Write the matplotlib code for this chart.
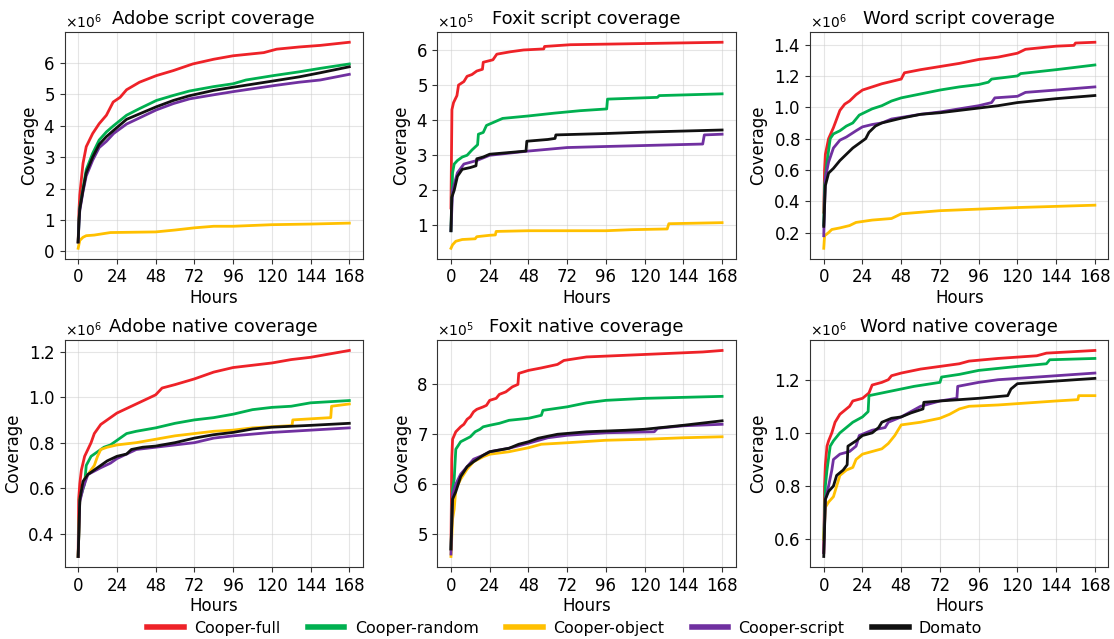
import matplotlib
matplotlib.use("Agg")
import matplotlib.pyplot as plt
from matplotlib.lines import Line2D
from matplotlib.ticker import ScalarFormatter, MultipleLocator

# Series names and colours
names = ["Cooper-full", "Cooper-random", "Cooper-object", "Cooper-script", "Domato"]
colors = ["#ee2228", "#00b050", "#ffc000", "#7030a0", "#111111"]

# Each series: list of (hour, coverage)
adobe_script = {
    "Cooper-full": [(0, 0.3), (0.5, 1.3), (1, 1.8), (2, 2.3), (3, 2.8), (5, 3.33), (9, 3.75), (13, 4.06),
                    (17.5, 4.33), (21.7, 4.75), (26, 4.9), (30, 5.14), (38, 5.38), (48.5, 5.59), (59, 5.75),
                    (71, 5.96), (84, 6.11), (96, 6.22), (115, 6.32), (123, 6.43), (137, 6.5), (150, 6.55), (168, 6.65)],
    "Cooper-random": [(0, 0.3), (0.5, 1.0), (1, 1.4), (3, 2.0), (5, 2.6), (9, 3.12), (13, 3.54), (17.5, 3.8),
                      (22, 4.0), (30, 4.33), (38, 4.54), (48.5, 4.8), (59, 4.96), (69, 5.1), (84, 5.24),
                      (96, 5.33), (104, 5.45), (121, 5.59), (137, 5.71), (150, 5.82), (168, 5.96)],
    "Cooper-object": [(0, 0.1), (1, 0.35), (3, 0.45), (5, 0.5), (10, 0.52), (20, 0.6), (48, 0.62), (60, 0.68),
                      (72, 0.75), (84, 0.8), (96, 0.8), (120, 0.85), (144, 0.87), (168, 0.9)],
    "Cooper-script": [(0, 0.3), (0.5, 0.9), (1, 1.3), (3, 1.9), (5, 2.4), (9, 2.9), (13, 3.3), (17.5, 3.5),
                      (22, 3.75), (30, 4.05), (48.5, 4.5), (59, 4.7), (69, 4.85), (84, 4.98), (96, 5.08),
                      (121, 5.27), (137, 5.38), (150, 5.45), (168, 5.63)],
    "Domato": [(0, 0.3), (0.5, 0.95), (1, 1.35), (3, 1.95), (5, 2.5), (9, 3.0), (13, 3.4), (17.5, 3.65),
               (22, 3.85), (30, 4.2), (48.5, 4.6), (59, 4.8), (69, 4.95), (84, 5.12), (96, 5.22),
               (121, 5.42), (137, 5.55), (150, 5.68), (168, 5.87)],
}

foxit_script = {
    "Cooper-full": [(0, 1.5), (0.6, 4.3), (1.6, 4.5), (3.7, 4.7), (4.7, 5.0), (8, 5.1), (10, 5.25), (13, 5.3),
                    (16, 5.4), (19.5, 5.45), (20, 5.65), (26, 5.72), (28.4, 5.88), (37, 5.95), (45, 6.0),
                    (57.5, 6.03), (58, 6.1), (74, 6.15), (115, 6.18), (168, 6.22)],
    "Cooper-random": [(0, 0.85), (1, 2.5), (2, 2.75), (4, 2.85), (7, 2.95), (10, 3.0), (13, 3.15), (16.5, 3.3),
                      (17, 3.6), (20, 3.65), (22, 3.85), (27, 3.95), (32, 4.05), (48, 4.12), (64, 4.2),
                      (80, 4.27), (96.5, 4.32), (97, 4.6), (128, 4.65), (129, 4.7), (168, 4.75)],
    "Cooper-object": [(0, 0.35), (1, 0.45), (3, 0.55), (7, 0.6), (15, 0.62), (16, 0.68), (24, 0.72),
                      (27.5, 0.73), (28, 0.83), (48, 0.85), (96, 0.85), (112, 0.88), (134, 0.9), (135, 1.05),
                      (168, 1.08)],
    "Cooper-script": [(0, 0.85), (1, 2.0), (4, 2.5), (8, 2.75), (16, 2.85), (24, 3.0), (48, 3.12), (72, 3.22),
                      (96, 3.25), (156, 3.32), (157, 3.58), (168, 3.6)],
    "Domato": [(0, 0.85), (0.5, 1.8), (2, 2.0), (4, 2.4), (7, 2.6), (12, 2.65), (15.5, 2.7), (16, 2.9),
               (20, 2.95), (24, 3.03), (46.5, 3.12), (47, 3.4), (60, 3.45), (64.5, 3.48), (65, 3.58),
               (96, 3.62), (120, 3.66), (168, 3.72)],
}

word_script = {
    "Cooper-full": [(0, 0.33), (0.5, 0.6), (1, 0.7), (3, 0.8), (6, 0.87), (10, 0.98), (13, 1.02), (16, 1.04),
                    (20, 1.08), (24, 1.11), (30, 1.13), (36, 1.15), (48, 1.18), (50, 1.22), (60, 1.24),
                    (72, 1.26), (84, 1.28), (96, 1.305), (108, 1.32), (120, 1.345), (125, 1.37), (144, 1.39),
                    (155, 1.395), (156, 1.41), (168, 1.415)],
    "Cooper-random": [(0, 0.25), (0.5, 0.5), (2, 0.65), (4, 0.8), (6, 0.83), (10, 0.85), (14, 0.88), (18, 0.9),
                      (22, 0.95), (26, 0.97), (30, 0.99), (36, 1.01), (42, 1.04), (48, 1.06), (60, 1.085),
                      (72, 1.11), (84, 1.13), (96, 1.145), (102, 1.16), (104, 1.18), (120, 1.2), (122, 1.215),
                      (144, 1.24), (168, 1.27)],
    "Cooper-object": [(0, 0.1), (0.5, 0.18), (3, 0.2), (5, 0.22), (10, 0.23), (16, 0.245), (20, 0.265),
                      (30, 0.28), (42, 0.29), (46, 0.31), (48, 0.32), (72, 0.34), (96, 0.35), (120, 0.36),
                      (168, 0.375)],
    "Cooper-script": [(0, 0.18), (1, 0.55), (3, 0.65), (6, 0.74), (10, 0.79), (14, 0.81), (20, 0.85),
                      (24, 0.875), (30, 0.89), (36, 0.9), (42, 0.925), (48, 0.935), (60, 0.955), (72, 0.97),
                      (84, 0.99), (96, 1.01), (104, 1.03), (106, 1.06), (120, 1.07), (125, 1.095),
                      (144, 1.11), (168, 1.13)],
    "Domato": [(0, 0.24), (1, 0.5), (3, 0.58), (6, 0.61), (10, 0.66), (14, 0.7), (18, 0.74), (22, 0.77),
               (26, 0.8), (28, 0.84), (30, 0.86), (32, 0.88), (36, 0.9), (48, 0.93), (60, 0.955), (72, 0.965),
               (84, 0.98), (96, 0.995), (108, 1.01), (120, 1.03), (144, 1.055), (168, 1.075)],
}

adobe_native = {
    "Cooper-full": [(0, 0.3), (0.3, 0.55), (1, 0.62), (2, 0.68), (4, 0.74), (6, 0.77), (8, 0.8), (10, 0.84),
                    (12, 0.86), (14, 0.88), (18, 0.9), (24, 0.93), (30, 0.95), (36, 0.97), (42, 0.99),
                    (48, 1.01), (52, 1.04), (60, 1.055), (72, 1.08), (84, 1.11), (96, 1.13), (108, 1.14),
                    (120, 1.15), (132, 1.165), (144, 1.175), (156, 1.19), (168, 1.205)],
    "Cooper-random": [(0, 0.3), (1, 0.55), (4, 0.62), (5, 0.7), (8, 0.74), (12, 0.76), (16, 0.78), (20, 0.79),
                      (24, 0.81), (30, 0.84), (36, 0.85), (48, 0.865), (60, 0.885), (72, 0.9), (84, 0.91),
                      (96, 0.925), (108, 0.945), (120, 0.955), (132, 0.96), (144, 0.975), (168, 0.985)],
    "Cooper-object": [(0, 0.3), (1, 0.55), (4, 0.64), (8, 0.68), (10, 0.7), (12, 0.74), (14, 0.77), (18, 0.78),
                      (24, 0.79), (36, 0.8), (48, 0.815), (60, 0.83), (72, 0.84), (84, 0.85), (96, 0.855),
                      (108, 0.865), (120, 0.87), (132.5, 0.875), (133, 0.9), (156.5, 0.91), (157, 0.96),
                      (168, 0.97)],
    "Cooper-script": [(0, 0.3), (1, 0.54), (3, 0.6), (6, 0.66), (10, 0.675), (14, 0.69), (20, 0.71), (24, 0.73),
                      (30, 0.75), (36, 0.77), (48, 0.78), (60, 0.79), (72, 0.8), (84, 0.82), (96, 0.83),
                      (120, 0.845), (144, 0.855), (168, 0.865)],
    "Domato": [(0, 0.3), (1, 0.55), (3, 0.63), (6, 0.66), (10, 0.68), (14, 0.7), (18, 0.72), (24, 0.74),
               (30, 0.75), (33, 0.77), (40, 0.78), (48, 0.785), (60, 0.8), (72, 0.82), (84, 0.835), (96, 0.845),
               (108, 0.86), (120, 0.868), (144, 0.876), (168, 0.885)],
}

foxit_native = {
    "Cooper-full": [(0, 4.7), (0.5, 6.5), (1, 6.9), (3, 7.05), (6, 7.15), (8, 7.2), (10, 7.3), (12, 7.35),
                    (14, 7.45), (16, 7.5), (20, 7.55), (22, 7.58), (24, 7.68), (28, 7.72), (30, 7.8), (34, 7.85),
                    (38, 7.95), (41.5, 8.0), (42, 8.22), (48, 8.28), (56, 8.33), (66, 8.4), (70, 8.48),
                    (84, 8.55), (120, 8.6), (156, 8.65), (168, 8.68)],
    "Cooper-random": [(0, 4.7), (1, 5.9), (2, 6.1), (3, 6.7), (6, 6.85), (9, 6.9), (12, 6.95), (15, 7.05),
                      (18, 7.1), (20, 7.15), (24, 7.18), (30, 7.22), (36, 7.28), (48, 7.32), (56, 7.38),
                      (57, 7.48), (72, 7.55), (84, 7.63), (96, 7.68), (120, 7.72), (144, 7.74), (168, 7.76)],
    "Cooper-object": [(0, 4.55), (1, 5.3), (2, 5.5), (3, 5.9), (6, 6.1), (10, 6.3), (14, 6.45), (20, 6.55),
                      (24, 6.6), (36, 6.65), (48, 6.73), (56, 6.8), (72, 6.83), (96, 6.88), (120, 6.9),
                      (144, 6.93), (168, 6.95)],
    "Cooper-script": [(0, 4.6), (1, 5.8), (3, 6.0), (6, 6.2), (10, 6.35), (14, 6.5), (20, 6.58), (24, 6.65),
                      (36, 6.72), (48, 6.82), (60, 6.93), (72, 6.98), (96, 7.03), (126, 7.05), (128, 7.12),
                      (144, 7.17), (168, 7.2)],
    "Domato": [(0, 4.7), (1, 5.7), (3, 5.85), (6, 6.15), (10, 6.35), (14, 6.45), (20, 6.58), (24, 6.65),
               (36, 6.72), (42, 6.8), (48, 6.85), (54, 6.92), (66, 7.0), (84, 7.05), (108, 7.08), (120, 7.1),
               (144, 7.18), (168, 7.27)],
}

word_native = {
    "Cooper-full": [(0, 0.55), (0.5, 0.8), (1, 0.88), (2, 0.95), (3, 0.97), (5, 1.0), (7, 1.04), (10, 1.07),
                    (12, 1.08), (16, 1.1), (18, 1.12), (24, 1.13), (28, 1.15), (30, 1.18), (36, 1.19), (40, 1.2),
                    (42, 1.215), (48, 1.225), (60, 1.24), (72, 1.25), (84, 1.26), (90, 1.27), (108, 1.28),
                    (120, 1.285), (132, 1.29), (138, 1.3), (168, 1.31)],
    "Cooper-random": [(0, 0.6), (1, 0.8), (2, 0.86), (4, 0.95), (6, 0.97), (10, 1.0), (14, 1.02), (18, 1.04),
                      (24, 1.06), (27.5, 1.08), (28, 1.14), (36, 1.15), (48, 1.165), (56, 1.175), (72, 1.19),
                      (73, 1.21), (84, 1.22), (96, 1.235), (120, 1.25), (138, 1.26), (140, 1.275), (168, 1.28)],
    "Cooper-object": [(0, 0.6), (1, 0.72), (3, 0.74), (6, 0.76), (8, 0.8), (10, 0.84), (14, 0.86), (18, 0.87),
                      (20, 0.9), (24, 0.92), (30, 0.93), (36, 0.94), (40, 0.96), (44, 0.99), (46, 1.01),
                      (48, 1.03), (60, 1.04), (72, 1.055), (78, 1.07), (84, 1.09), (90, 1.1), (108, 1.105),
                      (120, 1.11), (144, 1.12), (157.5, 1.125), (158, 1.14), (168, 1.14)],
    "Cooper-script": [(0, 0.55), (1, 0.75), (3, 0.8), (5, 0.86), (6, 0.9), (10, 0.92), (16, 0.93), (20, 0.95),
                      (22, 0.99), (30, 1.01), (38, 1.02), (40, 1.04), (48, 1.06), (54, 1.08), (60, 1.1),
                      (72, 1.12), (82.5, 1.13), (83, 1.175), (96, 1.19), (108, 1.2), (120, 1.205), (144, 1.215),
                      (168, 1.225)],
    "Domato": [(0, 0.535), (1, 0.75), (3, 0.78), (6, 0.8), (8, 0.84), (12, 0.86), (14.5, 0.88), (15, 0.95),
               (20, 0.97), (24, 0.99), (30, 1.0), (34, 1.02), (36, 1.04), (42, 1.055), (48, 1.06), (54, 1.075),
               (61.5, 1.09), (62, 1.115), (72, 1.12), (96, 1.13), (114, 1.14), (116, 1.165), (120, 1.185),
               (144, 1.195), (168, 1.205)],
}

# title, data, scale, y tick step (in scaled units)
panels = [
    ("Adobe script coverage", adobe_script, 1e6, 1.0),
    ("Foxit script coverage", foxit_script, 1e5, 1.0),
    ("Word script coverage", word_script, 1e6, 0.2),
    ("Adobe native coverage", adobe_native, 1e6, 0.2),
    ("Foxit native coverage", foxit_native, 1e5, 1.0),
    ("Word native coverage", word_native, 1e6, 0.2),
]

hour_ticks = [0, 24, 48, 72, 96, 120, 144, 168]

fig, axes = plt.subplots(2, 3, figsize=(11.14, 6.39), dpi=100)
fig.subplots_adjust(left=0.058, right=0.995, top=0.95, bottom=0.113, wspace=0.25, hspace=0.36)

for ax, (title, data, scale, step) in zip(axes.flat, panels):
    for name, color in zip(names, colors):
        hrs = [p[0] for p in data[name]]
        cov = [p[1] * scale for p in data[name]]
        ax.plot(hrs, cov, color=color, lw=2, label=name)
    ax.set_title(title, fontsize=13)
    ax.set_xlabel("Hours", fontsize=12, labelpad=2)
    ax.set_ylabel("Coverage", fontsize=12)
    ax.set_xticks(hour_ticks)
    ax.yaxis.set_major_locator(MultipleLocator(step * scale))
    ax.tick_params(labelsize=12, color="#333333")
    ax.grid(True, color="#cccccc", alpha=0.5, lw=0.8)
    for sp in ax.spines.values():
        sp.set_color("#333333")
    fmt = ScalarFormatter(useMathText=True)
    fmt.set_powerlimits((0, 0))
    ax.yaxis.set_major_formatter(fmt)
    ax.yaxis.get_offset_text().set_fontsize(10)

handles = [Line2D([0], [0], color=c, lw=4) for c in colors]
fig.legend(handles, names, loc="center", ncol=5, frameon=False, fontsize=11.4,
           bbox_to_anchor=(0.507, 0.017), handlelength=2.3, handletextpad=0.65, columnspacing=1.75)

fig.savefig("out.png", dpi=100)
